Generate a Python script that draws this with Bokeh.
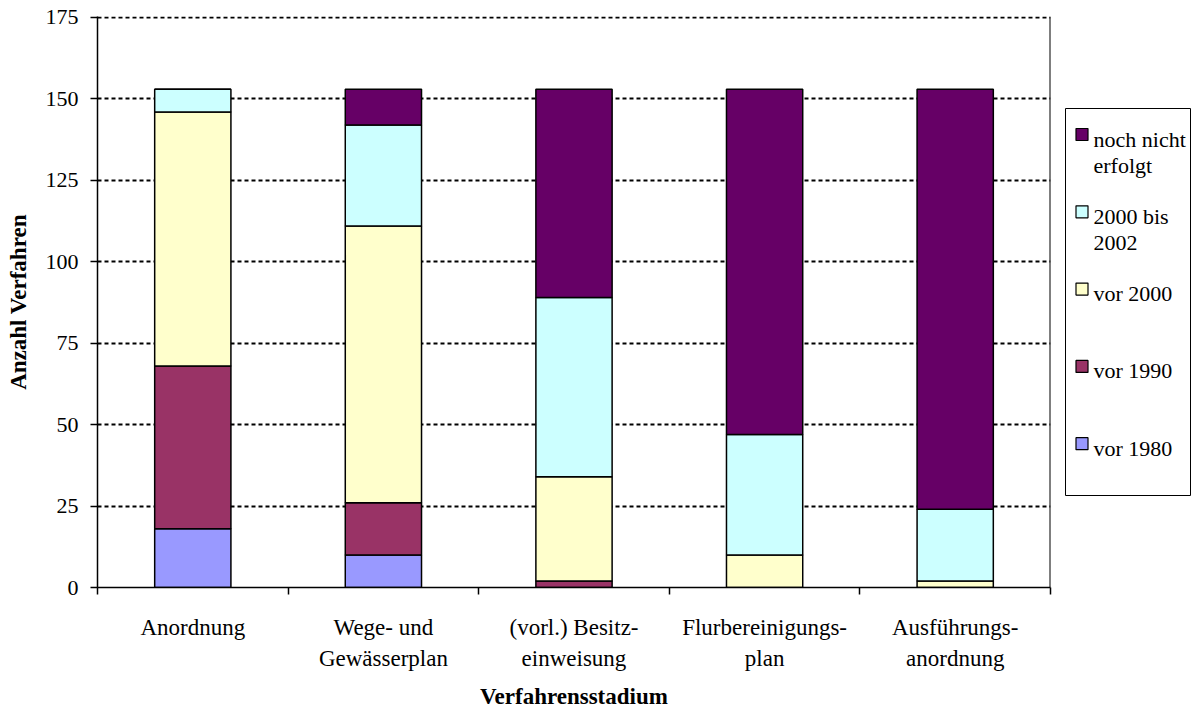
from bokeh.plotting import figure
from bokeh.models import ColumnDataSource, Range1d, FixedTicker, Span
from bokeh.layouts import row
from bokeh.embed import file_html
from bokeh.resources import INLINE
from bokeh.core.properties import value

# ---- data ----
categories = ["Anordnung", "Wege- und\nGewässerplan", "(vorl.) Besitz-\neinweisung",
              "Flurbereinigungs-\nplan", "Ausführungs-\nanordnung"]
series = ["vor_1980", "vor_1990", "vor_2000", "bis_2002", "noch_nicht"]
series_labels = ["vor 1980", "vor 1990", "vor 2000", "2000 bis\n2002", "noch nicht\nerfolgt"]
vor_1980 = [18, 10, 0, 0, 0]
vor_1990 = [50, 16, 2, 0, 0]
vor_2000 = [78, 85, 32, 10, 2]
bis_2002 = [7, 31, 55, 37, 22]
noch_nicht = [0, 11, 64, 106, 129]
colors = ["#9999FF", "#993366", "#FFFFCC", "#CCFFFF", "#660066"]
y_ticks = [0, 25, 50, 75, 100, 125, 150, 175]

FONT = "Liberation Serif"

# ---- layout constants (page pixels) ----
FRAME_L, FRAME_R, FRAME_T, FRAME_B = 97, 1050, 16, 587
PAGE_H = 713
MAIN_W = 1058
LEG_W = 134

n = len(categories)
xpos = [i + 0.5 for i in range(n)]
source = ColumnDataSource(dict(x=xpos, vor_1980=vor_1980, vor_1990=vor_1990,
                               vor_2000=vor_2000, bis_2002=bis_2002, noch_nicht=noch_nicht))

p = figure(width=MAIN_W, height=PAGE_H, x_range=Range1d(0, n), y_range=Range1d(0, 175.3),
           output_backend="svg", toolbar_location=None,
           min_border_left=FRAME_L, min_border_right=MAIN_W - FRAME_R,
           min_border_top=FRAME_T, min_border_bottom=PAGE_H - FRAME_B)
p.outline_line_color = None
p.background_fill_color = "white"
p.border_fill_color = "white"

p.vbar_stack(series, x="x", width=0.4, source=source, fill_color=colors,
             line_color="black", line_width=1.5)

# grid
p.xgrid.visible = False
p.ygrid.grid_line_color = "black"
p.ygrid.grid_line_dash = "4 3"
p.ygrid.grid_line_width = 2
p.ygrid.ticker = FixedTicker(ticks=y_ticks[1:])

# right border of plot area
p.add_layout(Span(location=n, dimension="height", line_color="black", line_width=2))

# y axis
ya = p.yaxis[0]
ya.ticker = FixedTicker(ticks=y_ticks, minor_ticks=[])
ya.axis_line_color = "black"
ya.axis_line_width = 1.5
ya.major_tick_out = 7
ya.major_tick_in = 0
ya.major_tick_line_width = 1.5
ya.major_label_standoff = 12
ya.major_label_text_font = FONT
ya.major_label_text_font_size = "22px"
ya.major_label_text_color = "black"
ya.axis_label = "Anzahl Verfahren"
ya.axis_label_text_font = FONT
ya.axis_label_text_font_size = "23px"
ya.axis_label_text_font_style = "bold"
ya.axis_label_text_color = "black"
ya.axis_label_standoff = 12

# x axis
xa = p.xaxis[0]
xa.ticker = FixedTicker(ticks=xpos, minor_ticks=list(range(n + 1)))
xa.major_label_overrides = {x: c for x, c in zip(xpos, categories)}
xa.axis_line_color = "black"
xa.axis_line_width = 1.5
xa.major_tick_out = 0
xa.major_tick_in = 0
xa.minor_tick_out = 7
xa.minor_tick_in = 0
xa.minor_tick_line_color = "black"
xa.minor_tick_line_width = 1.5
xa.major_label_standoff = 20
xa.major_label_text_font = FONT
xa.major_label_text_font_size = "23px"
xa.major_label_text_color = "black"
xa.major_label_text_line_height = 1.27
xa.axis_label = "Verfahrensstadium"
xa.axis_label_text_font = FONT
xa.axis_label_text_font_size = "23px"
xa.axis_label_text_font_style = "bold"
xa.axis_label_text_color = "black"
xa.axis_label_standoff = 10

# ---- legend panel (coordinates in page pixels; frame aligned with main plot) ----
lg = figure(width=LEG_W, height=PAGE_H,
            x_range=Range1d(MAIN_W, MAIN_W + LEG_W), y_range=Range1d(FRAME_B, FRAME_T),
            output_backend="svg", toolbar_location=None,
            min_border_left=0, min_border_right=0,
            min_border_top=FRAME_T, min_border_bottom=PAGE_H - FRAME_B,
            x_axis_location=None, y_axis_location=None)
lg.outline_line_color = None
lg.grid.visible = False
lg.background_fill_color = "white"
lg.border_fill_color = "white"

lg.quad(left=1065, right=1190, top=108, bottom=495, fill_color="white",
        line_color="black", line_width=1)

order = list(range(len(series)))[::-1]
step = 77.3
sw_y = [134 + k * step for k in range(len(order))]
txt_y = [126 + k * step for k in range(len(order))]
lg.rect(x=[1081.5] * len(order), y=sw_y, width=12, height=12,
        fill_color=[colors[i] for i in order], line_color="black", line_width=1.2)
lg.text(x=[1093] * len(order), y=txt_y, text=[series_labels[i] for i in order],
        text_font=value(FONT), text_font_size="22px", text_baseline="top",
        text_align="left", text_color="black", text_line_height=1.05)

layout = row(p, lg)
open("out.html", "w").write(file_html(layout, INLINE))
